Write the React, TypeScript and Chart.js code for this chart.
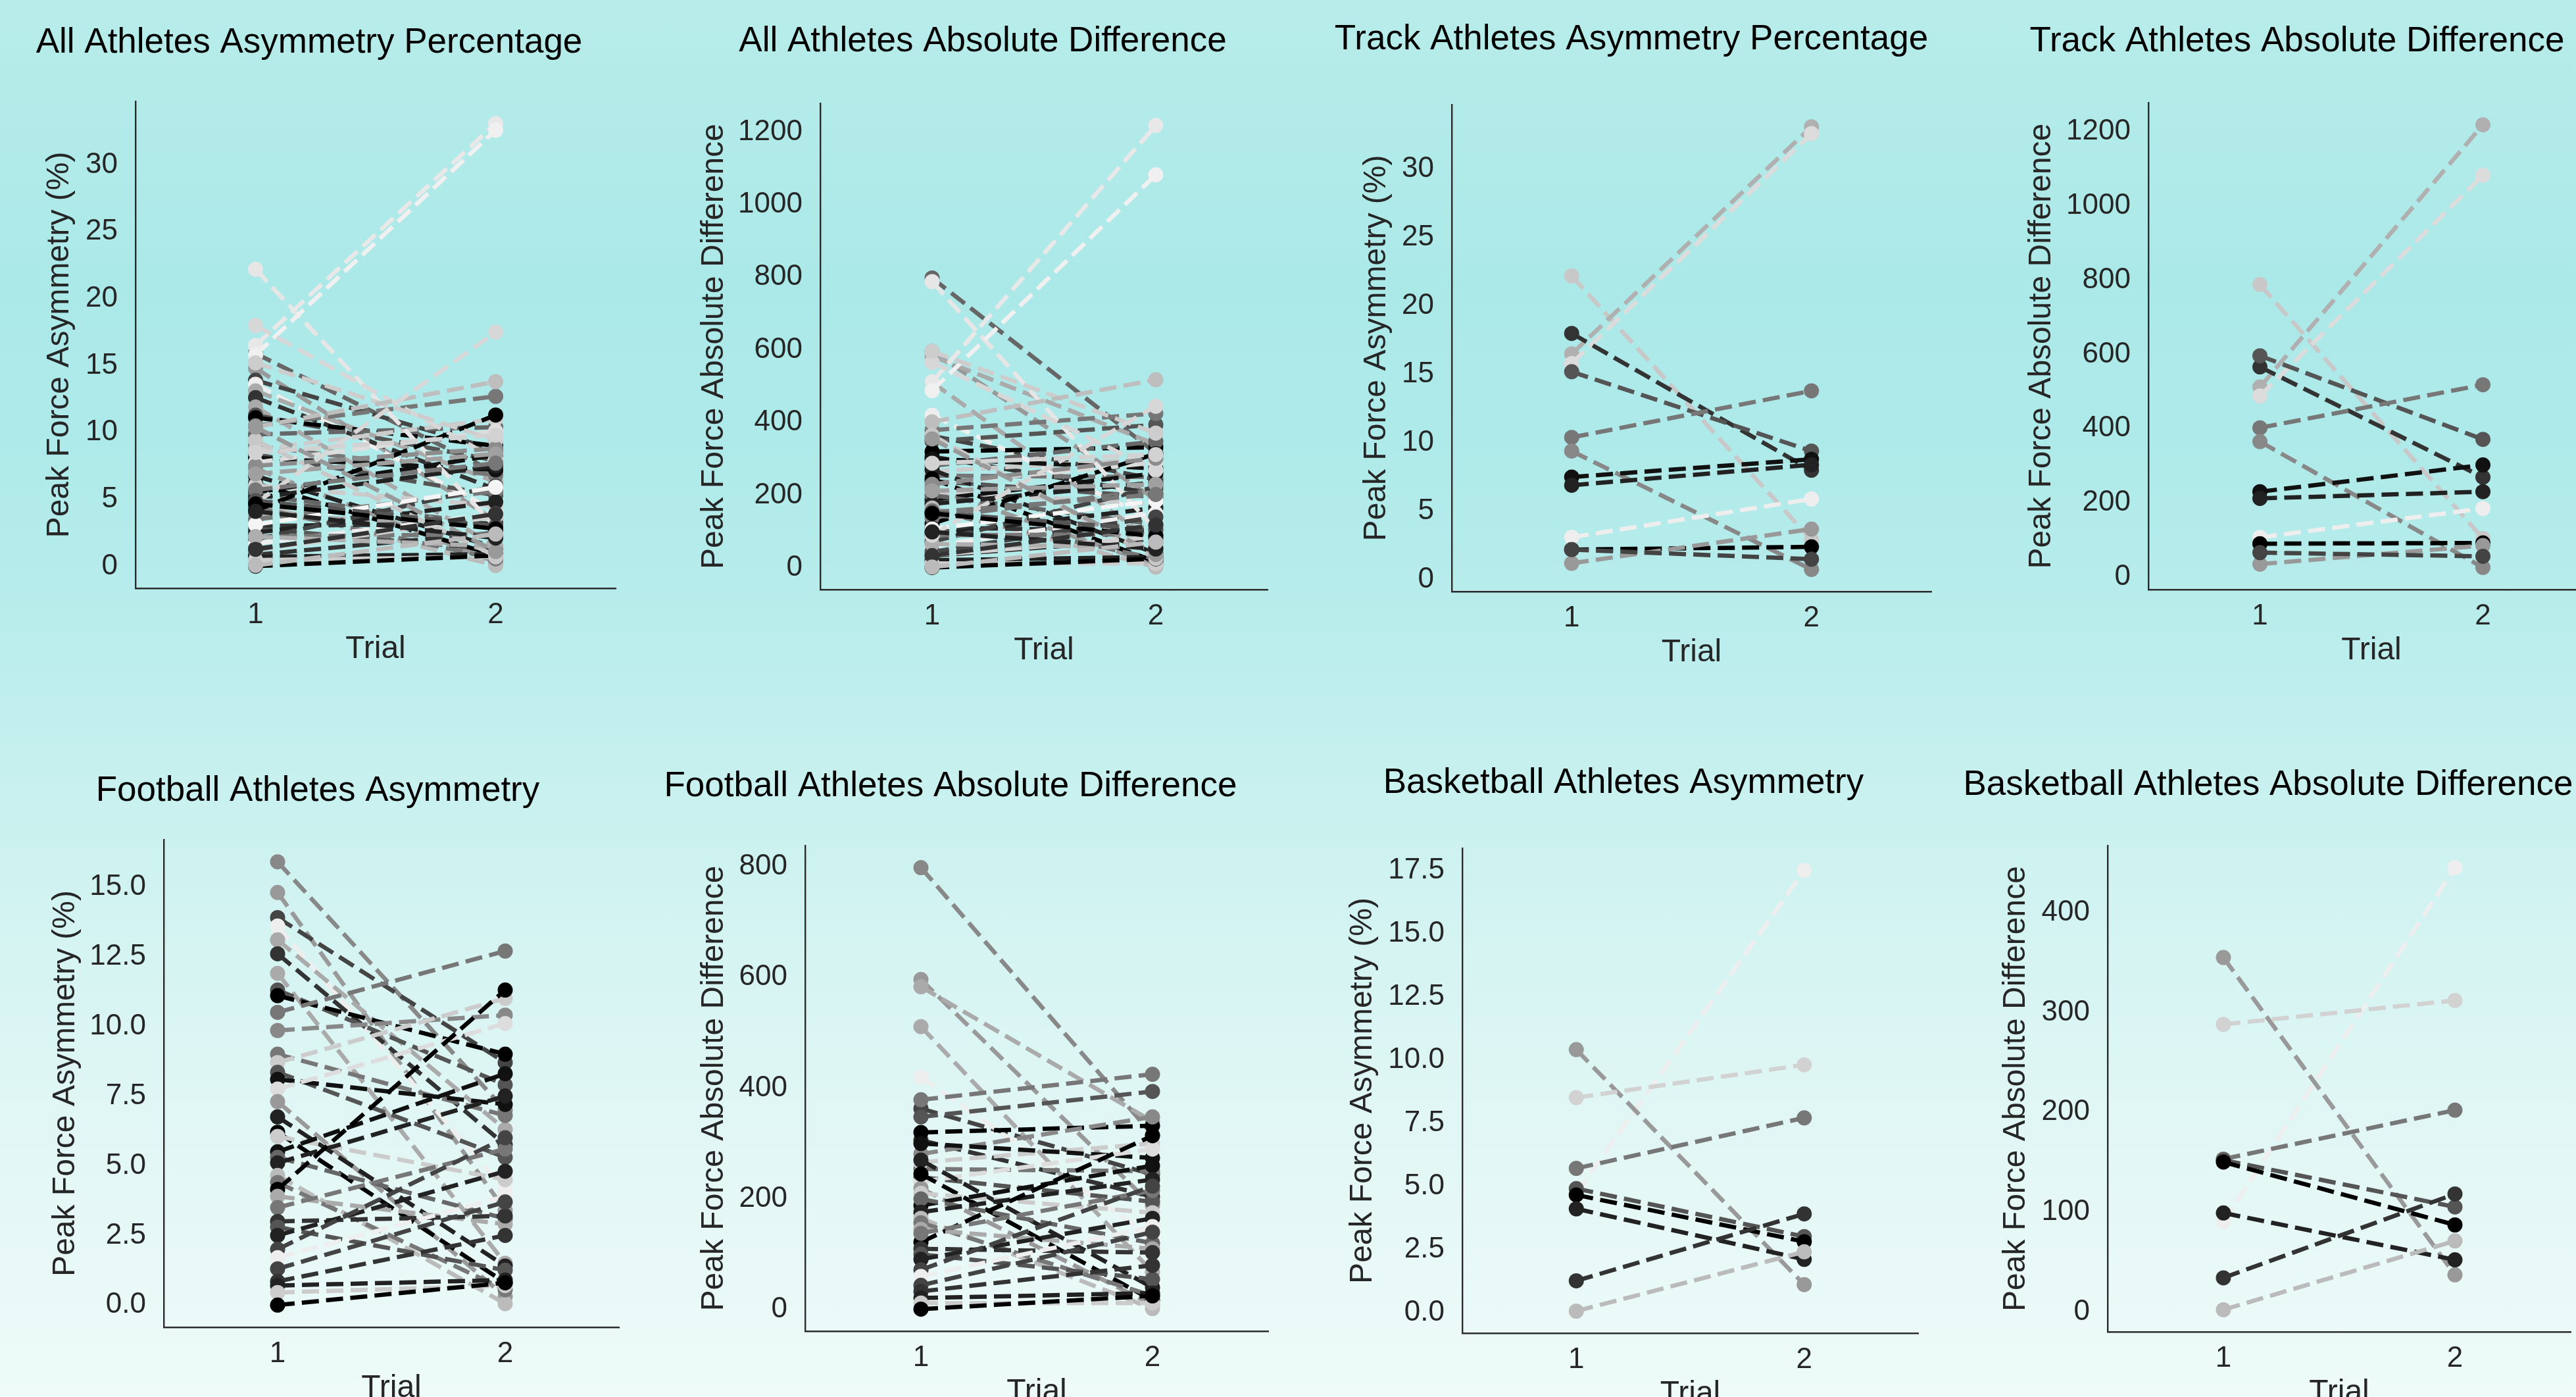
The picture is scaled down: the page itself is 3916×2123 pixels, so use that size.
import React, { useEffect, useRef } from 'react';
import { Chart, registerables } from 'chart.js';

Chart.register(...registerables);

const FONT = '"Liberation Sans", Arial, Helvetica, sans-serif';

// ---------------- data ----------------
const trialLabels = [1, 2];

// Football athletes
const footballAsym1 = [15.9, 14.8, 13.9, 13.6, 13.1, 12.6, 11.9, 11.3, 11.1, 10.5, 9.85, 9.0, 8.7, 8.35, 8.1, 7.75, 7.3, 6.75, 6.2, 6.05, 5.5, 5.3, 5.1, 4.65, 4.4, 4.15, 3.9, 3.5, 3.0, 2.8, 2.5, 2.0, 1.7, 1.3, 0.85, 0.7, 0.45, 0.0];
const footballAsym2 = [7.0, 3.4, 8.7, 4.1, 6.3, 5.75, 1.5, 7.9, 9.0, 12.7, 10.4, 6.8, 11.0, 5.3, 7.2, 10.1, 0.3, 1.4, 0.8, 4.5, 8.3, 3.1, 7.5, 0.05, 0.55, 11.3, 2.9, 5.6, 3.2, 1.25, 4.8, 6.0, 3.9, 3.7, 2.5, 0.9, 0.7, 0.8];
const footballAbs1 = [798, 596, 363, 420, 583, 306, 511, 348, 320, 379, 281, 254, 266, 239, 300, 231, 219, 270, 245, 210, 188, 200, 176, 165, 157, 122, 145, 138, 110, 100, 91, 72, 60, 44, 33, 21, 12, 1];
const footballAbs2 = [316, 188, 244, 130, 340, 204, 68, 394, 332, 425, 348, 250, 300, 195, 274, 290, 9, 40, 17, 175, 260, 120, 235, 2, 25, 314, 110, 215, 103, 55, 165, 223, 150, 140, 80, 30, 12, 25];
const footballShade = [136, 153, 68, 238, 170, 51, 170, 85, 0, 119, 136, 119, 204, 85, 17, 221, 153, 34, 0, 204, 17, 102, 34, 187, 119, 0, 170, 119, 51, 85, 34, 68, 238, 68, 51, 34, 204, 0];
const footballShadeAll = [102, 153, 68, 238, 170, 51, 170, 85, 0, 119, 102, 119, 204, 85, 17, 221, 153, 34, 0, 204, 17, 102, 34, 187, 119, 0, 170, 119, 51, 85, 34, 68, 238, 68, 51, 34, 204, 0];

// Track athletes
const trackAsym1 = [22.2, 16.5, 15.8, 18.0, 15.2, 10.4, 9.4, 7.5, 6.9, 3.1, 2.2, 1.2, 2.2];
const trackAsym2 = [2.9, 33.1, 32.6, 8.0, 9.4, 13.8, 0.75, 8.8, 8.4, 5.9, 2.4, 3.7, 1.5];
const trackAbs1 = [788, 512, 488, 566, 596, 402, 365, 230, 212, 107, 90, 35, 66];
const trackAbs2 = [104, 1218, 1082, 269, 371, 518, 26, 302, 230, 185, 92, 85, 56];
const trackShade = [200, 176, 220, 51, 85, 119, 136, 17, 34, 238, 0, 153, 68];
const trackShadeAll = [230, 232, 240, 215, 205, 190, 200, 140, 160, 245, 120, 210, 175];

// Basketball athletes
const basketballAsym1 = [4.7, 10.4, 8.5, 5.7, 4.9, 4.65, 4.1, 1.25, 0.05];
const basketballAsym2 = [17.5, 1.1, 9.8, 7.7, 3.0, 2.8, 2.1, 3.9, 2.4];
const basketballAbs1 = [90, 355, 288, 153, 152, 150, 99, 34, 2];
const basketballAbs2 = [445, 37, 312, 202, 105, 87, 52, 118, 71];
const basketballShade = [238, 153, 210, 119, 85, 0, 34, 51, 187];
const basketballShadeAll = [215, 153, 210, 119, 85, 0, 34, 51, 187];

// All athletes = every group together
const allAsym1 = [...footballAsym1, ...trackAsym1, ...basketballAsym1];
const allAsym2 = [...footballAsym2, ...trackAsym2, ...basketballAsym2];
const allAbs1 = [...footballAbs1, ...trackAbs1, ...basketballAbs1];
const allAbs2 = [...footballAbs2, ...trackAbs2, ...basketballAbs2];
const allShade = [...footballShadeAll, ...trackShadeAll, ...basketballShadeAll];

const ASYM_LABEL = 'Peak Force Asymmetry (%)';
const ABS_LABEL = 'Peak Force Absolute Difference';

// ---------------- layout / panels ----------------
type Panel = {
  title: string;
  ylabel: string;
  v1: number[];
  v2: number[];
  shade: number[];
  step: number;
  decimals: number;
  cell: [number, number, number, number]; // left, top, width, height
  area: [number, number, number, number]; // left, top, right, bottom (page px)
  titlePos: [number, number];
  ylabelX: number;
};

const TOP_CELL_H = 1060;
const BOT_TOP = 1100;
const BOT_CELL_H = 1100;

const PANELS: Panel[] = [
  { title: 'All Athletes Asymmetry Percentage', ylabel: ASYM_LABEL, v1: allAsym1, v2: allAsym2, shade: allShade, step: 5, decimals: 0,
    cell: [0, 0, 980, TOP_CELL_H], area: [206, 154, 936, 894], titlePos: [470, 80], ylabelX: 91 },
  { title: 'All Athletes Absolute Difference', ylabel: ABS_LABEL, v1: allAbs1, v2: allAbs2, shade: allShade, step: 200, decimals: 0,
    cell: [980, 0, 1020, TOP_CELL_H], area: [1247, 157, 1927, 896], titlePos: [1494, 78], ylabelX: 1086 },
  { title: 'Track Athletes Asymmetry Percentage', ylabel: ASYM_LABEL, v1: trackAsym1, v2: trackAsym2, shade: trackShade, step: 5, decimals: 0,
    cell: [2000, 0, 980, TOP_CELL_H], area: [2207, 159, 2936, 899], titlePos: [2480, 75], ylabelX: 2093 },
  { title: 'Track Athletes Absolute Difference', ylabel: ABS_LABEL, v1: trackAbs1, v2: trackAbs2, shade: trackShade, step: 200, decimals: 0,
    cell: [2980, 0, 1000, TOP_CELL_H], area: [3266, 156, 3944, 896], titlePos: [3492, 78], ylabelX: 3104 },
  { title: 'Football Athletes Asymmetry', ylabel: ASYM_LABEL, v1: footballAsym1, v2: footballAsym2, shade: footballShade, step: 2.5, decimals: 1,
    cell: [0, BOT_TOP, 980, BOT_CELL_H], area: [249, 1276, 941, 2017], titlePos: [483, 1217], ylabelX: 100 },
  { title: 'Football Athletes Absolute Difference', ylabel: ABS_LABEL, v1: footballAbs1, v2: footballAbs2, shade: footballShade, step: 200, decimals: 0,
    cell: [980, BOT_TOP, 1020, BOT_CELL_H], area: [1224, 1285, 1928, 2023], titlePos: [1445, 1210], ylabelX: 1086 },
  { title: 'Basketball Athletes Asymmetry', ylabel: ASYM_LABEL, v1: basketballAsym1, v2: basketballAsym2, shade: basketballShade, step: 2.5, decimals: 1,
    cell: [2000, BOT_TOP, 980, BOT_CELL_H], area: [2223, 1289, 2916, 2026], titlePos: [2468, 1205], ylabelX: 2072 },
  { title: 'Basketball Athletes Absolute Difference', ylabel: ABS_LABEL, v1: basketballAbs1, v2: basketballAbs2, shade: basketballShade, step: 100, decimals: 0,
    cell: [2980, BOT_TOP, 1000, BOT_CELL_H], area: [3204, 1285, 3908, 2024], titlePos: [3448, 1208], ylabelX: 3065 },
];

const TITLE_SIZE = 53;
const LABEL_SIZE = 48;
const TICK_SIZE = 44;
const AXIS_COLOR = '#2b2b2b';
const TEXT_COLOR = '#262626';

function paddedRange(a: number[], b: number[]): [number, number] {
  const all = [...a, ...b];
  const lo = Math.min(...all);
  const hi = Math.max(...all);
  const m = (hi - lo) * 0.05;
  return [lo - m, hi + m];
}

function buildDatasets(v1: number[], v2: number[], shade: number[]) {
  const ds = v1.map((a, i) => {
    const s = shade[i];
    const c = `rgb(${s},${s},${s})`;
    return {
      data: [
        { x: trialLabels[0], y: a },
        { x: trialLabels[1], y: v2[i] },
      ],
      borderColor: c,
      backgroundColor: c,
      pointBackgroundColor: c,
      pointBorderColor: c,
      borderWidth: 6.5,
      borderDash: [26, 11],
      borderCapStyle: 'butt' as const,
      pointRadius: 11.5,
      pointHoverRadius: 11.5,
      pointBorderWidth: 0,
      tension: 0,
      fill: false,
    };
  });
  // matplotlib draws later lines on top; Chart.js draws the first dataset on top
  return ds.reverse();
}

const titlePlugin = {
  id: 'panelTitle',
  afterDraw(chart: any, _args: any, opts: any) {
    const ctx = chart.ctx as CanvasRenderingContext2D;
    ctx.save();
    ctx.font = `${TITLE_SIZE}px ${FONT}`;
    ctx.fillStyle = '#000000';
    ctx.textAlign = 'center';
    ctx.textBaseline = 'alphabetic';
    ctx.fillText(opts.text, opts.x, opts.y);
    ctx.restore();
  },
};

function makeConfig(p: Panel): any {
  const [cl, ct, cw, ch] = p.cell;
  const [al, at, ar, ab] = p.area;
  const [ymin, ymax] = paddedRange(p.v1, p.v2);
  const xAxisH = ct + ch - ab;
  const yAxisW = al - cl;
  const trialCenterOffset = 93;
  const tickFont = { family: FONT, size: TICK_SIZE, lineHeight: 1 };
  const labelFont = { family: FONT, size: LABEL_SIZE, lineHeight: 1 };
  return {
    type: 'line',
    data: { datasets: buildDatasets(p.v1, p.v2, p.shade) },
    options: {
      animation: false,
      responsive: false,
      maintainAspectRatio: false,
      devicePixelRatio: 1,
      events: [],
      layout: { padding: { left: 0, top: at - ct, right: cl + cw - ar, bottom: 0 } },
      plugins: {
        legend: { display: false },
        title: { display: false },
        tooltip: { enabled: false },
        panelTitle: { text: p.title, x: p.titlePos[0] - cl, y: p.titlePos[1] - ct },
      },
      scales: {
        x: {
          type: 'linear',
          position: 'bottom',
          min: 0.5,
          max: 2.5,
          grid: { display: false, drawTicks: false },
          border: { display: true, color: AXIS_COLOR, width: 2.4 },
          ticks: {
            font: tickFont,
            color: TEXT_COLOR,
            padding: 41 - TICK_SIZE / 2,
            autoSkip: false,
            maxRotation: 0,
            callback: (v: any) => String(v),
          },
          title: {
            display: true,
            text: 'Trial',
            font: labelFont,
            color: TEXT_COLOR,
            padding: { top: 0, bottom: xAxisH - trialCenterOffset - LABEL_SIZE / 2 },
          },
          afterBuildTicks: (scale: any) => {
            scale.ticks = trialLabels.map((t) => ({ value: t }));
          },
          afterFit: (scale: any) => {
            scale.height = xAxisH;
          },
        },
        y: {
          type: 'linear',
          position: 'left',
          min: ymin,
          max: ymax,
          grid: { display: false, drawTicks: false },
          border: { display: true, color: AXIS_COLOR, width: 2.4 },
          ticks: {
            font: tickFont,
            color: TEXT_COLOR,
            padding: 27,
            autoSkip: false,
            callback: (v: any) => (p.decimals ? Number(v).toFixed(p.decimals) : String(Math.round(Number(v)))),
          },
          title: {
            display: true,
            text: p.ylabel,
            font: labelFont,
            color: TEXT_COLOR,
            padding: { top: p.ylabelX - cl - LABEL_SIZE / 2, bottom: 0 },
          },
          afterBuildTicks: (scale: any) => {
            const ticks: { value: number }[] = [];
            const start = Math.ceil(scale.min / p.step - 1e-9);
            for (let k = start; k * p.step <= scale.max + 1e-9; k++) {
              ticks.push({ value: +(k * p.step).toFixed(6) });
            }
            scale.ticks = ticks;
          },
          afterFit: (scale: any) => {
            scale.width = yAxisW;
          },
        },
      },
    },
    plugins: [titlePlugin],
  };
}

function PanelCanvas({ panel }: { panel: Panel }) {
  const ref = useRef<HTMLCanvasElement | null>(null);
  useEffect(() => {
    if (!ref.current) return;
    const chart = new Chart(ref.current, makeConfig(panel));
    return () => chart.destroy();
  }, [panel]);
  const [cl, ct, cw, ch] = panel.cell;
  return (
    <canvas
      ref={ref}
      width={cw}
      height={ch}
      style={{ position: 'absolute', left: cl, top: ct, width: cw, height: ch, display: 'block' }}
    />
  );
}

export default function App() {
  return (
    <div
      style={{
        position: 'absolute',
        left: 0,
        top: 0,
        width: 3916,
        height: 2123,
        overflow: 'hidden',
        background:
          'linear-gradient(to bottom, #b7ecea 0%, #abe9e8 20%, #aeeae9 32%, #b9edec 45%, #c6f0ee 55%, #d5f4f2 68%, #e2f7f5 82%, #eefbf8 100%)',
        fontFamily: FONT,
      }}
    >
      {PANELS.map((p, i) => (
        <PanelCanvas key={i} panel={p} />
      ))}
    </div>
  );
}
